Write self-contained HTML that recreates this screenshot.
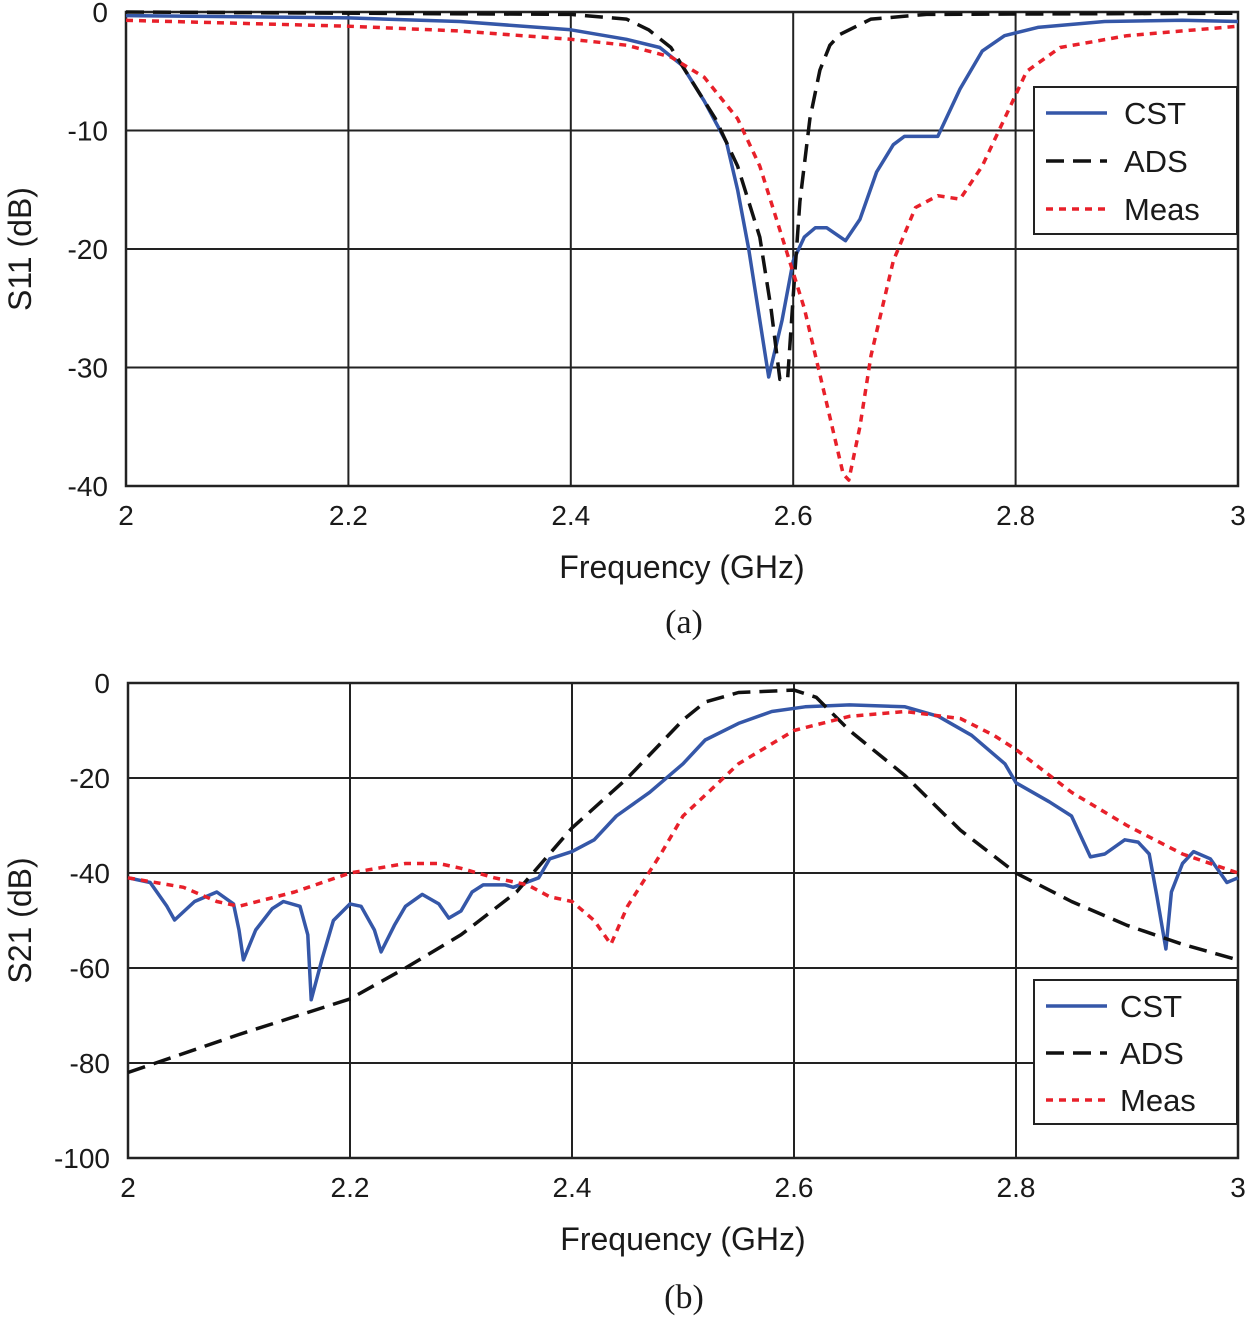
<!DOCTYPE html>
<html><head><meta charset="utf-8"><style>
html,body{margin:0;padding:0;background:#fff}
svg{display:block}
text{font-family:"Liberation Sans",sans-serif;fill:#1a1a1a}
</style></head><body>
<svg id="s" width="1250" height="1321" viewBox="0 0 1250 1321"></svg>
<script>
// ---- chart (a) data ----
const aCstF=[2,2.2,2.3,2.4,2.45,2.48,2.5,2.52,2.54,2.55,2.56,2.57,2.578,2.59,2.6,2.61,2.62,2.63,2.647,2.66,2.675,2.69,2.7,2.72,2.73,2.75,2.77,2.79,2.82,2.88,2.95,3];
const aCstV=[-0.3,-0.5,-0.8,-1.5,-2.3,-3,-4.5,-7.5,-11,-15,-20,-26,-30.8,-26,-21,-19,-18.2,-18.2,-19.3,-17.5,-13.5,-11.2,-10.5,-10.5,-10.5,-6.5,-3.3,-2,-1.3,-0.8,-0.7,-0.8];
const aAdsF=[2,2.4,2.45,2.47,2.49,2.51,2.53,2.55,2.57,2.58,2.588,2.595,2.6,2.606,2.615,2.624,2.633,2.642,2.67,2.72,3];
const aAdsV=[0,-0.2,-0.6,-1.5,-3,-6,-9,-13,-19,-25,-31,-31,-24,-16,-9,-4.9,-2.8,-1.9,-0.6,-0.2,-0.1];
const aMeasF=[2,2.2,2.3,2.4,2.45,2.49,2.52,2.55,2.57,2.59,2.61,2.63,2.645,2.65,2.66,2.67,2.69,2.71,2.73,2.75,2.77,2.79,2.81,2.84,2.9,3];
const aMeasV=[-0.7,-1.2,-1.6,-2.3,-2.8,-3.8,-5.5,-9,-13,-19,-25,-33,-39,-39.5,-35,-29,-21,-16.5,-15.5,-15.8,-13,-9,-5,-3,-2,-1.2];
const aXTicks=[2,2.2,2.4,2.6,2.8,3];
const aYTicks=[0,-10,-20,-30,-40];
// ---- chart (b) data ----
const bCstF=[2,2.02,2.035,2.042,2.06,2.08,2.095,2.1,2.104,2.115,2.13,2.14,2.155,2.162,2.165,2.175,2.185,2.2,2.21,2.222,2.228,2.24,2.25,2.265,2.28,2.289,2.3,2.31,2.32,2.34,2.347,2.37,2.38,2.4,2.42,2.44,2.47,2.5,2.52,2.55,2.58,2.61,2.65,2.7,2.73,2.76,2.79,2.8,2.83,2.85,2.867,2.88,2.898,2.91,2.92,2.927,2.935,2.94,2.95,2.96,2.975,2.99,3];
const bCstV=[-41,-42,-47,-49.9,-46,-44,-46.5,-52,-58.3,-52,-47.5,-46,-47,-53,-66.7,-58,-50,-46.5,-47,-52,-56.6,-51,-47,-44.5,-46.5,-49.5,-48,-44,-42.5,-42.5,-43,-41,-37,-35.5,-33,-28,-23,-17,-12,-8.5,-6,-5,-4.6,-5,-7,-11,-17,-21,-25,-28,-36.6,-36,-33,-33.5,-36,-45,-56,-44,-38,-35.5,-37,-42,-41];
const bAdsF=[2,2.1,2.2,2.25,2.3,2.35,2.4,2.45,2.5,2.52,2.55,2.6,2.62,2.65,2.7,2.75,2.8,2.85,2.9,2.95,3];
const bAdsV=[-82,-74,-66.5,-60,-53,-44,-30.5,-20,-7.8,-4,-2,-1.5,-3,-10,-19.5,-31,-40,-46,-51,-55,-58.3];
const bMeasF=[2,2.05,2.08,2.1,2.15,2.2,2.25,2.28,2.3,2.33,2.36,2.38,2.4,2.42,2.435,2.45,2.48,2.5,2.55,2.6,2.65,2.7,2.75,2.78,2.8,2.85,2.9,2.95,3];
const bMeasV=[-41,-43,-46,-47,-44,-40,-38,-38,-39,-41,-42.5,-45,-46,-50,-55,-47,-36,-28,-17,-10,-7,-6,-7.5,-11,-14,-23,-30,-36,-40];
const bXTicks=[2,2.2,2.4,2.6,2.8,3];
const bYTicks=[0,-20,-40,-60,-80,-100];

const NS='http://www.w3.org/2000/svg';
const svg=document.getElementById('s');
function mk(tag,attrs,parent){const e=document.createElementNS(NS,tag);for(const k in attrs)e.setAttribute(k,attrs[k]);(parent||svg).appendChild(e);return e;}
const styles={cst:{stroke:'#3557a8',dash:''},ads:{stroke:'#111',dash:'18,9'},meas:{stroke:'#e8202a',dash:'7,6'}};

function chart(id,L,R,T,B,ymin,ymax,xt,yt,ylabel,caption,capY,series,leg){
  const g=mk('g',{});
  
  
  const X=f=>L+(f-2)/(3-2)*(R-L);
  const Y=v=>T+(ymax-v)/(ymax-ymin)*(B-T);
  xt.forEach(t=>{
    const l=mk('line',{x1:X(t),x2:X(t),y1:T,y2:B,stroke:'#222','stroke-width':2},g);
    
    
    const tx=mk('text',{x:X(t),y:B+39,'font-size':28,'text-anchor':'middle'},g);
    tx.textContent=String(t);
    
    
  });
  yt.forEach(t=>{
    const l=mk('line',{x1:L,x2:R,y1:Y(t),y2:Y(t),stroke:'#222','stroke-width':2},g);
    
    
    const tx=mk('text',{x:L-18,y:Y(t)+10,'font-size':28,'text-anchor':'end'},g);
    tx.textContent=String(t);
    
    
  });
  const fr=mk('rect',{x:L,y:T,width:R-L,height:B-T,fill:'none',stroke:'#222','stroke-width':2.5},g);
  
  
  series.forEach(s=>{
    const st=styles[s.k];
    const d=s.f.map((f,i)=>(i?'L':'M')+X(f).toFixed(1)+','+Y(s.v[i]).toFixed(1)).join(' ');
    const p=mk('path',{d:d,fill:'none',stroke:st.stroke,'stroke-width':3.5,'stroke-dasharray':st.dash,'stroke-linejoin':'round'},g);
    
    
  });
  const xl=mk('text',{x:(L+R)/2,y:B+92,'font-size':32,'text-anchor':'middle'},g);
  xl.textContent='Frequency (GHz)';
  
  
  const yl=mk('text',{x:0,y:0,'font-size':32,'text-anchor':'middle',transform:'translate(31,'+((T+B)/2)+') rotate(-90)'},g);
  yl.textContent=ylabel;
  
  
  const cp=mk('text',{x:684,y:capY,'font-size':34,'text-anchor':'middle',style:'font-family:"Liberation Serif",serif'},g);
  cp.textContent=caption;
  
  
  // legend
  const lg=mk('g',{},g);
  
  
  const lr=mk('rect',{x:1034,y:leg.y,width:203,height:leg.h,fill:'#fff',stroke:'#222','stroke-width':2},lg);
  
  
  [['cst','CST'],['ads','ADS'],['meas','Meas']].forEach((e,i)=>{
    const cy=leg.y+26+i*leg.step;
    const st=styles[e[0]];
    const ln=mk('line',{x1:1046,x2:1107,y1:cy,y2:cy,stroke:st.stroke,'stroke-width':3.5,'stroke-dasharray':st.dash},lg);
    
    
    const t=mk('text',{x:leg.tx,y:cy+11,'font-size':31},lg);
    t.textContent=e[1];
    
    
  });
}
chart('s11-chart',126,1238,12,486,-40,0,aXTicks,aYTicks,'S11 (dB)','(a)',633,
  [{k:'cst',f:aCstF,v:aCstV},{k:'ads',f:aAdsF,v:aAdsV},{k:'meas',f:aMeasF,v:aMeasV}],{y:87,h:147,step:48,tx:1124});
chart('s21-chart',128,1238,683,1158,-100,0,bXTicks,bYTicks,'S21 (dB)','(b)',1308,
  [{k:'cst',f:bCstF,v:bCstV},{k:'ads',f:bAdsF,v:bAdsV},{k:'meas',f:bMeasF,v:bMeasV}],{y:980,h:144,step:47,tx:1120});
</script>
</body></html>
